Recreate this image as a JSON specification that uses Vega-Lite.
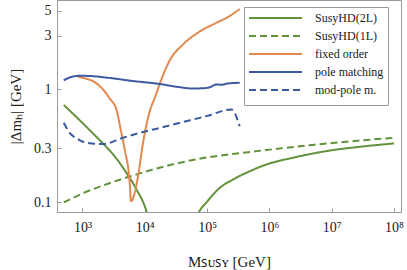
{
  "$schema": "https://vega.github.io/schema/vega-lite/v6.json",
  "width": 344,
  "height": 212,
  "autosize": {"type": "none"},
  "padding": {"left": 57, "top": 0, "right": 6, "bottom": 58},
  "background": "white",
  "data": {
    "values": [
      {"s": "SusyHD(2L)", "M": 500, "v": 0.729},
      {"s": "SusyHD(2L)", "M": 1019, "v": 0.499},
      {"s": "SusyHD(2L)", "M": 1500, "v": 0.403},
      {"s": "SusyHD(2L)", "M": 2134, "v": 0.332},
      {"s": "SusyHD(2L)", "M": 3500, "v": 0.244},
      {"s": "SusyHD(2L)", "M": 5070, "v": 0.182},
      {"s": "SusyHD(2L)", "M": 7330, "v": 0.130},
      {"s": "SusyHD(2L)", "M": 10600, "v": 0.083},
      {"s": "SusyHD(2L)", "M": 11500, "v": 0.07},
      {"s": "SusyHD(2L)", "M": 70600, "v": 0.0778},
      {"s": "SusyHD(2L)", "M": 76000, "v": 0.084},
      {"s": "SusyHD(2L)", "M": 97500, "v": 0.0994},
      {"s": "SusyHD(2L)", "M": 159000, "v": 0.1337},
      {"s": "SusyHD(2L)", "M": 261000, "v": 0.159},
      {"s": "SusyHD(2L)", "M": 483000, "v": 0.188},
      {"s": "SusyHD(2L)", "M": 896000, "v": 0.216},
      {"s": "SusyHD(2L)", "M": 2390000, "v": 0.248},
      {"s": "SusyHD(2L)", "M": 8220000, "v": 0.284},
      {"s": "SusyHD(2L)", "M": 28100000, "v": 0.310},
      {"s": "SusyHD(2L)", "M": 100000000, "v": 0.332},

      {"s": "SusyHD(1L)", "M": 500, "v": 0.0994},
      {"s": "SusyHD(1L)", "M": 1019, "v": 0.120},
      {"s": "SusyHD(1L)", "M": 2420, "v": 0.1442},
      {"s": "SusyHD(1L)", "M": 5725, "v": 0.169},
      {"s": "SusyHD(1L)", "M": 17350, "v": 0.2023},
      {"s": "SusyHD(1L)", "M": 76000, "v": 0.243},
      {"s": "SusyHD(1L)", "M": 261000, "v": 0.2677},
      {"s": "SusyHD(1L)", "M": 896000, "v": 0.2904},
      {"s": "SusyHD(1L)", "M": 3060000, "v": 0.3133},
      {"s": "SusyHD(1L)", "M": 10400000, "v": 0.335},
      {"s": "SusyHD(1L)", "M": 36100000, "v": 0.3563},
      {"s": "SusyHD(1L)", "M": 100000000, "v": 0.3726},

      {"s": "fixed order", "M": 837, "v": 1.305},
      {"s": "fixed order", "M": 1085, "v": 1.257},
      {"s": "fixed order", "M": 1474, "v": 1.185},
      {"s": "fixed order", "M": 2134, "v": 1.0},
      {"s": "fixed order", "M": 2733, "v": 0.832},
      {"s": "fixed order", "M": 3500, "v": 0.665},
      {"s": "fixed order", "M": 4102, "v": 0.4416},
      {"s": "fixed order", "M": 4756, "v": 0.294},
      {"s": "fixed order", "M": 5725, "v": 0.1486},
      {"s": "fixed order", "M": 6004, "v": 0.102},
      {"s": "fixed order", "M": 6887, "v": 0.121},
      {"s": "fixed order", "M": 7780, "v": 0.169},
      {"s": "fixed order", "M": 9360, "v": 0.336},
      {"s": "fixed order", "M": 11990, "v": 0.638},
      {"s": "fixed order", "M": 14970, "v": 0.885},
      {"s": "fixed order", "M": 17340, "v": 1.119},
      {"s": "fixed order", "M": 25120, "v": 1.81},
      {"s": "fixed order", "M": 41020, "v": 2.508},
      {"s": "fixed order", "M": 76030, "v": 3.271},
      {"s": "fixed order", "M": 141000, "v": 3.906},
      {"s": "fixed order", "M": 230600, "v": 4.488},
      {"s": "fixed order", "M": 333700, "v": 5.18},

      {"s": "pole matching", "M": 500, "v": 1.202},
      {"s": "pole matching", "M": 623, "v": 1.278},
      {"s": "pole matching", "M": 902, "v": 1.323},
      {"s": "pole matching", "M": 1305, "v": 1.318},
      {"s": "pole matching", "M": 2733, "v": 1.265},
      {"s": "pole matching", "M": 6397, "v": 1.190},
      {"s": "pole matching", "M": 17340, "v": 1.119},
      {"s": "pole matching", "M": 34630, "v": 1.052},
      {"s": "pole matching", "M": 58720, "v": 1.021},
      {"s": "pole matching", "M": 85010, "v": 1.025},
      {"s": "pole matching", "M": 110100, "v": 1.046},
      {"s": "pole matching", "M": 141000, "v": 1.108},
      {"s": "pole matching", "M": 169600, "v": 1.101},
      {"s": "pole matching", "M": 214100, "v": 1.130},
      {"s": "pole matching", "M": 333700, "v": 1.147},

      {"s": "mod-pole m.", "M": 500, "v": 0.506},
      {"s": "mod-pole m.", "M": 623, "v": 0.413},
      {"s": "mod-pole m.", "M": 837, "v": 0.364},
      {"s": "mod-pole m.", "M": 1155, "v": 0.336},
      {"s": "mod-pole m.", "M": 2134, "v": 0.328},
      {"s": "mod-pole m.", "M": 4470, "v": 0.3726},
      {"s": "mod-pole m.", "M": 9360, "v": 0.42},
      {"s": "mod-pole m.", "M": 17350, "v": 0.455},
      {"s": "mod-pole m.", "M": 28300, "v": 0.489},
      {"s": "mod-pole m.", "M": 97500, "v": 0.580},
      {"s": "mod-pole m.", "M": 246000, "v": 0.665},
      {"s": "mod-pole m.", "M": 333000, "v": 0.472}
    ]
  },
  "mark": {"type": "line", "strokeWidth": 2, "clip": true, "interpolate": "monotone"},
  "encoding": {
    "x": {
      "field": "M", "type": "quantitative",
      "scale": {"type": "log", "domain": [389.7, 129560000], "nice": false},
      "axis": {
        "values": [1000, 10000, 100000, 1000000, 10000000, 100000000],
        "labelExpr": "'10' + ['⁰','¹','²','³','⁴','⁵','⁶','⁷','⁸','⁹'][round(log(datum.value)/LN10)]",
        "title": "Mꜱᴜꜱʏ [GeV]",
        "grid": false
      }
    },
    "y": {
      "field": "v", "type": "quantitative",
      "scale": {"type": "log", "domain": [0.0818, 6.225], "nice": false},
      "axis": {
        "values": [0.1, 0.3, 1, 3, 5],
        "labelExpr": "'' + datum.value",
        "title": "|Δmₕ| [GeV]",
        "grid": false
      }
    },
    "color": {
      "field": "s", "type": "nominal",
      "scale": {
        "domain": ["SusyHD(2L)", "SusyHD(1L)", "fixed order", "pole matching", "mod-pole m."],
        "range": ["#62923A", "#62923A", "#E0884E", "#3C5A9F", "#3C5A9F"]
      },
      "legend": {"title": " "}
    },
    "strokeDash": {
      "field": "s", "type": "nominal",
      "scale": {
        "domain": ["SusyHD(2L)", "SusyHD(1L)", "fixed order", "pole matching", "mod-pole m."],
        "range": [[1, 0], [7, 4], [1, 0], [1, 0], [7, 4]]
      },
      "legend": {"title": " "}
    },
    "order": {"field": "M", "type": "quantitative"}
  },
  "config": {
    "font": "Liberation Serif",
    "view": {"stroke": "#9a9a9a", "strokeWidth": 1},
    "axis": {
      "domainColor": "#9a9a9a",
      "tickColor": "#9a9a9a",
      "tickSize": -4,
      "labelFont": "Liberation Serif",
      "labelFontSize": 14,
      "labelColor": "#222",
      "titleFont": "Liberation Serif",
      "titleFontSize": 15,
      "titleFontWeight": "normal",
      "titleColor": "#222"
    },
    "axisX": {"labelPadding": 12, "titlePadding": 20},
    "axisY": {"labelPadding": 10, "titlePadding": 10},
    "legend": {
      "orient": "none",
      "legendX": 187,
      "legendY": 7,
      "symbolType": "M-1,0H7.83",
      "symbolSize": 144,
      "symbolStrokeWidth": 2,
      "labelFont": "Liberation Serif",
      "labelFontSize": 12,
      "labelColor": "#222",
      "labelOffset": 53,
      "labelLimit": 0,
      "rowPadding": 5,
      "padding": 4,
      "titleOrient": "bottom",
      "titleFontSize": 5,
      "titlePadding": 0,
      "strokeColor": "#9a9a9a",
      "fillColor": "white"
    }
  }
}
